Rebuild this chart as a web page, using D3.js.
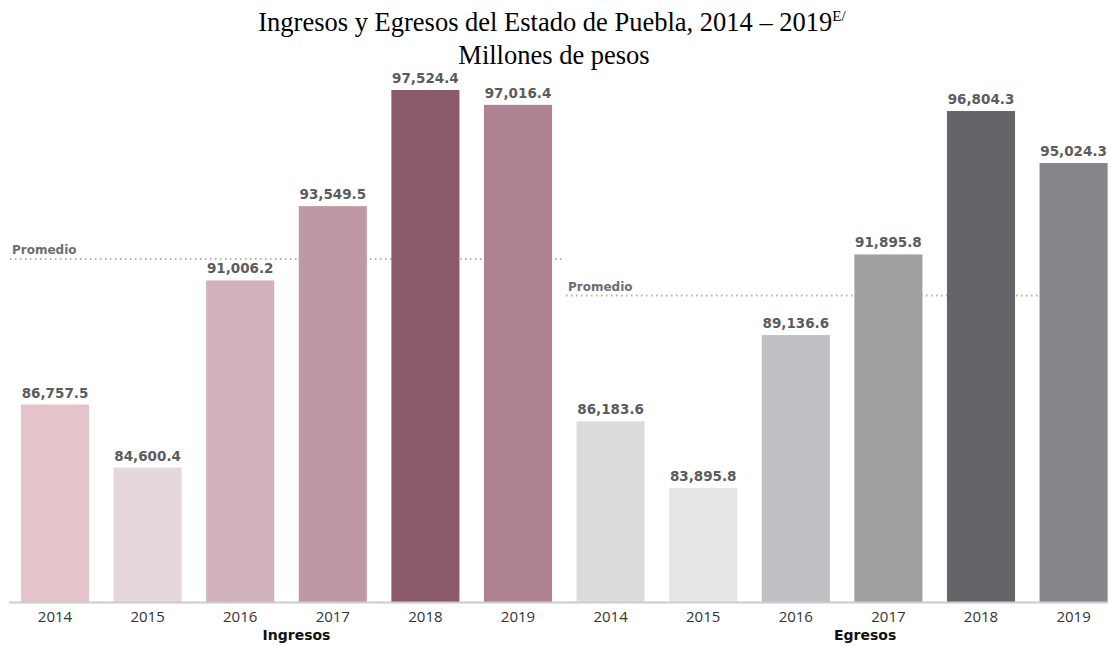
<!DOCTYPE html>
<html lang="es">

<head>
  <meta charset="utf-8">
  <script src="https://cdn.jsdelivr.net/npm/d3@7/dist/d3.min.js"></script>
  <style>
    body {
      margin: 0;
      background: #fff;
      overflow: hidden;
    }

    .title {
      font-family: "Liberation Serif", "Times New Roman", serif;
      font-size: 26.5px;
      fill: #000;
      text-anchor: middle;
    }

    .value {
      font-family: "DejaVu Sans", sans-serif;
      font-weight: bold;
      font-size: 13.5px;
      fill: #5c5c5c;
      text-anchor: middle;
    }

    .year {
      font-family: "Open Sans", sans-serif;
      font-size: 15px;
      fill: #333;
      text-anchor: middle;
    }

    .group {
      font-family: "DejaVu Sans", sans-serif;
      font-weight: bold;
      font-size: 14px;
      fill: #111;
      text-anchor: middle;
    }

    .prom {
      font-family: "DejaVu Sans", sans-serif;
      font-weight: bold;
      font-size: 12px;
      fill: #6e6e6e;
    }
  </style>
</head>

<body>
  <svg id="chart" width="1110" height="646"></svg>

  <script>
    var years = ['2014', '2015', '2016', '2017', '2018', '2019'];
    var ingresos = [86757.5, 84600.4, 91006.2, 93549.5, 97524.4, 97016.4];
    var egresos = [86183.6, 83895.8, 89136.6, 91895.8, 96804.3, 95024.3];
    var ingresosColors = ['#e4c3cb', '#e6d7dc', '#d0b1ba', '#be98a3', '#8b5a6a', '#ae8290'];
    var egresosColors = ['#dcdcdd', '#e5e5e5', '#bfc0c3', '#a0a0a3', '#646569', '#86878a'];
    var groups = ['Ingresos', 'Egresos'];

    var rows = [];
    years.forEach(function (y, i) {
      rows.push({ key: 'I' + y, year: y, value: ingresos[i], color: ingresosColors[i], group: 0 });
    });
    years.forEach(function (y, i) {
      rows.push({ key: 'E' + y, year: y, value: egresos[i], color: egresosColors[i], group: 1 });
    });

    var svg = d3.select('#chart');
    var baseY = 602;

    var x = d3.scaleBand()
      .domain(rows.map(function (d) { return d.key; }))
      .range([8.7, 1119.9])
      .paddingInner(0.265)
      .paddingOuter(0.1325);

    var y = d3.scaleLinear()
      .domain([80000, 100000])
      .range([baseY, baseY - 20000 * 0.029217]);

    // title
    var t1 = svg.append('text').attr('class', 'title').attr('x', 552).attr('y', 31);
    t1.append('tspan').text('Ingresos y Egresos del Estado de Puebla, 2014 – 2019');
    t1.append('tspan').text('E/').attr('font-size', '15px').attr('dy', -10);
    svg.append('text').attr('class', 'title').attr('x', 554).attr('y', 64).text('Millones de pesos');

    // average lines
    var avgs = [d3.mean(ingresos), d3.mean(egresos)];
    var spans = [[10, 562], [566, 1110]];
    avgs.forEach(function (a, g) {
      svg.append('line')
        .attr('x1', spans[g][0]).attr('x2', spans[g][1])
        .attr('y1', y(a)).attr('y2', y(a))
        .attr('stroke', '#bdb48f')
        .attr('stroke-width', 2)
        .attr('stroke-dasharray', '1.5 3.5');
      svg.append('text')
        .attr('class', 'prom')
        .attr('x', spans[g][0] + 2)
        .attr('y', y(a) - 5)
        .text('Promedio');
    });

    // bars
    svg.selectAll('.bar')
      .data(rows)
      .enter().append('rect')
      .attr('class', 'bar')
      .attr('x', function (d) { return x(d.key); })
      .attr('y', function (d) { return y(d.value); })
      .attr('width', x.bandwidth())
      .attr('height', function (d) { return baseY - y(d.value); })
      .attr('fill', function (d) { return d.color; });

    svg.selectAll('.value')
      .data(rows)
      .enter().append('text')
      .attr('class', 'value')
      .attr('x', function (d) { return x(d.key) + x.bandwidth() / 2; })
      .attr('y', function (d) { return y(d.value) - 7; })
      .text(function (d) { return d3.format(',.1f')(d.value); });

    // axis
    svg.append('line')
      .attr('x1', 9).attr('x2', 1108)
      .attr('y1', baseY + 0.5).attr('y2', baseY + 0.5)
      .attr('stroke', '#cccccc')
      .attr('stroke-width', 2);

    svg.selectAll('.year')
      .data(rows)
      .enter().append('text')
      .attr('class', 'year')
      .attr('x', function (d) { return x(d.key) + x.bandwidth() / 2; })
      .attr('y', 622)
      .text(function (d) { return d.year; });

    // group labels sit a little right of the group centre, as in the source
    var groupShift = [10, 23];
    groups.forEach(function (g, i) {
      var ks = rows.filter(function (d) { return d.group === i; });
      var cx = (x(ks[0].key) + x(ks[ks.length - 1].key) + x.bandwidth()) / 2;
      svg.append('text')
        .attr('class', 'group')
        .attr('x', cx + groupShift[i])
        .attr('y', 640)
        .text(g);
    });
  </script>
</body>

</html>
